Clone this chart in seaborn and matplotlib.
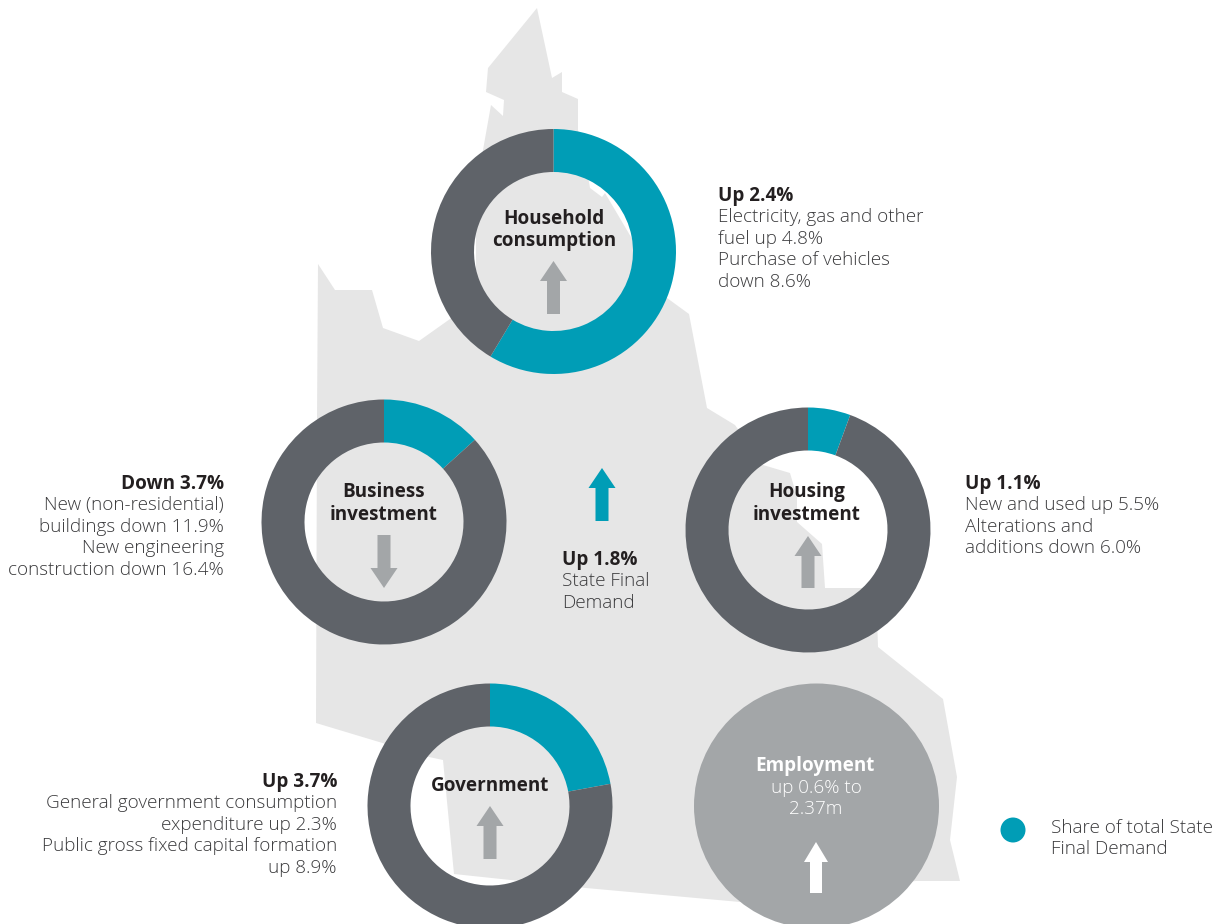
import matplotlib
matplotlib.use("Agg")
import matplotlib.pyplot as plt
from matplotlib.patches import Circle, Polygon
import seaborn as sns

# share of total State Final Demand (%)
donut_names = ["Household\nconsumption", "Business\ninvestment", "Housing\ninvestment", "Government"]
donut_shares = [58.6, 13.3, 5.6, 22.1]

# text blocks next to the donuts
household_lines = ["Up 2.4%", "Electricity, gas and other", "fuel up 4.8%", "Purchase of vehicles", "down 8.6%"]
business_lines = ["Down 3.7%", "New (non-residential)", "buildings down 11.9%", "New engineering", "construction down 16.4%"]
housing_lines = ["Up 1.1%", "New and used up 5.5%", "Alterations and", "additions down 6.0%"]
state_lines = ["Up 1.8%", "State Final", "Demand"]
government_lines = ["Up 3.7%", "General government consumption", "expenditure up 2.3%", "Public gross fixed capital formation", "up 8.9%"]
legend_lines = ["Share of total State", "Final Demand"]

TEAL = "#009DB6"
DARK = "#5F6369"
GREY = "#A3A6A8"
MAP = "#E6E6E6"
INK = "#231F20"
LIGHT_INK = "#3A3A3C"
FS = 13.6

W, H = 1220, 924

# outline of the state behind the donuts, in picture pixels
map_outline = [
    (537, 8), (552, 78), (562, 72), (562, 92), (578, 99), (578, 130), (589, 182), (590, 188),
    (602, 197), (605, 193), (667, 298), (689, 314), (707, 408), (735, 425), (763, 465),
    (790, 473), (797, 497), (797, 522), (822, 544), (825, 588), (863, 588), (877, 617),
    (878, 647), (943, 699), (957, 777), (950, 840), (960, 881), (916, 881), (740, 902),
    (586, 888), (454, 874), (443, 760), (429, 757), (316, 723), (317, 420), (318, 264),
    (335, 290), (372, 290), (383, 328), (419, 341), (450, 319), (476, 300), (476, 225),
    (483, 150), (491, 105), (503, 116), (504, 100), (486, 92), (488, 68),
]

sns.set_theme(style="white")
plt.rcParams["font.family"] = ["Open Sans", "DejaVu Sans"]

fig, ax = plt.subplots(figsize=(12.2, 9.24), dpi=100)
fig.subplots_adjust(left=0, right=1, bottom=0, top=1)

ax.add_patch(Polygon([(x, H - y) for x, y in map_outline], closed=True, color=MAP, lw=0, zorder=1))


def arrow(x, y_tail, y_tip, color, zorder=4, shaft=13, head=27):
    ax.arrow(x, H - y_tail, 0, y_tail - y_tip, width=shaft, head_width=head, head_length=20,
             length_includes_head=True, color=color, lw=0, zorder=zorder)


def block(lines, x, y_first, ha):
    step = 21.4
    for i, line in enumerate(lines):
        ax.text(x, H - (y_first + i * step), line, ha=ha, va="center", fontsize=FS,
                fontweight="bold" if i == 0 else "light",
                color=INK if i == 0 else LIGHT_INK, zorder=5)


# donuts
donut_centers = [(553.5, 251.5), (384, 522), (808, 530), (490, 806)]
for share, (cx, cy) in zip(donut_shares, donut_centers):
    wedges, _ = ax.pie([share, 100 - share], colors=[TEAL, DARK], startangle=90, counterclock=False,
                       center=(cx, H - cy), radius=122.5,
                       wedgeprops=dict(width=43, linewidth=0))
    for w in wedges:
        w.set_zorder(3)

# employment circle and legend dot
ax.add_patch(Circle((816.5, H - 806), 122.5, color=GREY, lw=0, zorder=3))
ax.add_patch(Circle((1013, H - 830), 12.5, color=TEAL, lw=0, zorder=3))

ax.set_xlim(0, W)
ax.set_ylim(0, H)
ax.set_aspect("equal")
ax.axis("off")

# arrows
arrow(553.5, 314, 261, GREY)
arrow(384, 535, 588, GREY)
arrow(808, 588, 536, GREY)
arrow(490, 859, 806, GREY)
arrow(816, 893, 842, "white", shaft=12, head=24)
arrow(602, 521, 468, TEAL)

# donut labels
label_pos = [(554, 230), (384, 503.5), (807, 503.5), (490, 786)]
for name, (x, y) in zip(donut_names, label_pos):
    ax.text(x, H - y, name, ha="center", va="center", fontsize=FS, fontweight="bold",
            color=INK, linespacing=1.17, zorder=5)

ax.text(815, H - 766, "Employment", ha="center", va="center", fontsize=FS, fontweight="bold", color="white", zorder=5)
ax.text(816, H - 788, "up 0.6% to", ha="center", va="center", fontsize=FS, fontweight="light", color="white", zorder=5)
ax.text(816, H - 809, "2.37m", ha="center", va="center", fontsize=FS, fontweight="light", color="white", zorder=5)

block(household_lines, 718, 196, "left")
block(business_lines, 224, 484, "right")
block(housing_lines, 965, 484, "left")
block(state_lines, 562, 560, "left")
block(government_lines, 337, 782, "right")

for i, line in enumerate(legend_lines):
    ax.text(1051, H - (828 + i * 21.4), line, ha="left", va="center", fontsize=FS,
            fontweight="light", color=LIGHT_INK, zorder=5)

fig.savefig("out.png", dpi=100)
